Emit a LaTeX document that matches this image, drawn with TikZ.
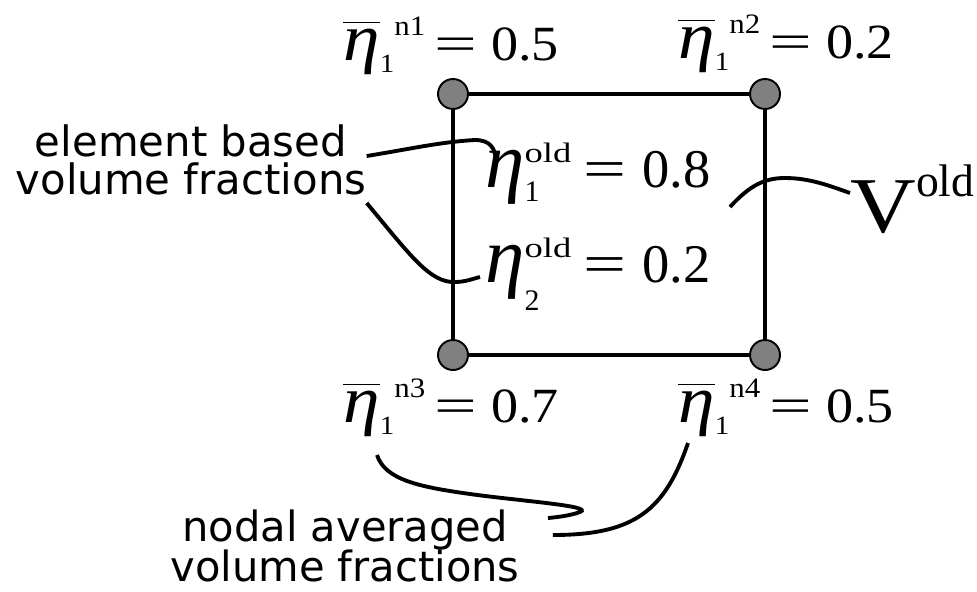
\documentclass[tikz,border=0pt]{standalone}
\usepackage{amsmath}
\usepackage{graphicx}
\usepackage{fontspec}
\usepackage{xcolor}
\usepackage{tikz}
\usetikzlibrary{positioning, shapes, calc}
\setsansfont{DejaVu Sans}
\newfontfamily\tms{Liberation Serif}
\definecolor{nodegray}{RGB}{128,128,128}

\newcommand{\wideeq}{\scalebox{1.4}[1]{=}}
% nodal averaged value: node number, value
\newcommand{\nodalval}[2]{\scalebox{1.1}[1]{\tms\fontsize{28}{28}\selectfont
  $\overline{\hbox{\fontsize{38}{38}\selectfont\itshape η}}$\raisebox{-7pt}{\fontsize{15}{15}\selectfont 1}%
  \raisebox{14pt}{\fontsize{16}{16}\selectfont n#1}\hspace{5pt}\wideeq\ #2}}
% element based value: phase, drop of subscript, value
\newcommand{\oldval}[3]{\tms\fontsize{31}{31}\selectfont
  {\fontsize{45}{45}\selectfont\itshape η}\rlap{\raisebox{#2}{\fontsize{17}{17}\selectfont #1}}%
  \raisebox{14pt}{\scalebox{1.3}[1]{\fontsize{16}{16}\selectfont old}}\hspace{7pt}\wideeq\hspace{9pt}#3}

\tikzset{
  vertex/.style={draw, circle, fill=nodegray, line width=1.1pt, minimum size=0.6cm, inner sep=0pt},
  edge/.style={line width=2.2pt},
  lead/.style={line width=2.2pt},
  note/.style={align=center, inner sep=0pt, font=\sffamily}
}

\begin{document}
\begin{tikzpicture}[x=0.2mm, y=-0.2mm]
      \useasboundingbox (0,0) rectangle (977,591);

      \node[vertex] (n1) at (453, 94) {};
      \node[vertex] (n2) at (765, 94) {};
      \node[vertex] (n3) at (453, 355) {};
      \node[vertex] (n4) at (765, 355) {};

      \draw[edge] (n1) -- (n2);
      \draw[edge] (n2) -- (n4);
      \draw[edge] (n4) -- (n3);
      \draw[edge] (n3) -- (n1);

      % Nodal averaged values
      \node[anchor=base west, inner sep=0pt] (v1) at (343, 60) {\nodalval{1}{0.5}};
      \node[anchor=base west, inner sep=0pt] (v2) at (678, 58) {\nodalval{2}{0.2}};
      \node[anchor=base west, inner sep=0pt] (v3) at (343, 422) {\nodalval{3}{0.7}};
      \node[anchor=base west, inner sep=0pt] (v4) at (678, 422) {\nodalval{4}{0.5}};

      % Element values
      \node[anchor=base west, inner sep=0pt] (e1) at (485, 187) {\oldval{1}{-8.5pt}{0.8}};
      \node[anchor=base west, inner sep=0pt] (e2) at (485, 282) {\oldval{2}{-16pt}{0.2}};
      \node[anchor=base west, inner sep=0pt] (vol) at (850, 232)
        {\tms\fontsize{45}{45}\selectfont\scalebox{1.15}[1]{V}\raisebox{20pt}{\fontsize{26}{26}\selectfont old}};

      % Notes
      \node[note, font=\sffamily\fontsize{23.8}{22}\selectfont] (elem) at (191, 160)
        {element based\\volume fractions};
      \node[note, font=\sffamily\fontsize{23.7}{23}\selectfont] (nodal) at (345, 546)
        {nodal averaged\\volume fractions};

      \coordinate (e1end) at (496, 163);
      \coordinate (e2end) at (480, 277);
      \coordinate (volend) at (730, 207);
      \coordinate (v3end) at (377, 455);
      \coordinate (v4end) at (688, 443);

      \draw[lead] (elem.east |- 0,156) .. controls (410,149) and (440,142) .. (475,140)
        .. controls (490,140) and (496,148) .. (e1end);
      \draw[lead] (elem.east |- 0,203) .. controls (410,255) and (430,283) .. (455,282)
        .. controls (465,282) and (472,279) .. (e2end);
      \draw[lead] (vol.west |- 0,193) .. controls (830,186) and (810,178) .. (785,178)
        .. controls (765,178) and (750,185) .. (volend);
      \draw[lead] ($(nodal.east |- 0,518)+(28,0)$) .. controls (560,517) and (572,515) .. (580,512)
        .. controls (595,506) and (520,501) .. (470,494)
        .. controls (420,487) and (385,480) .. (v3end);
      \draw[lead] ($(nodal.east |- 0,535)+(33,0)$) .. controls (635,535) and (665,510) .. (v4end);
    \end{tikzpicture}
\end{document}
